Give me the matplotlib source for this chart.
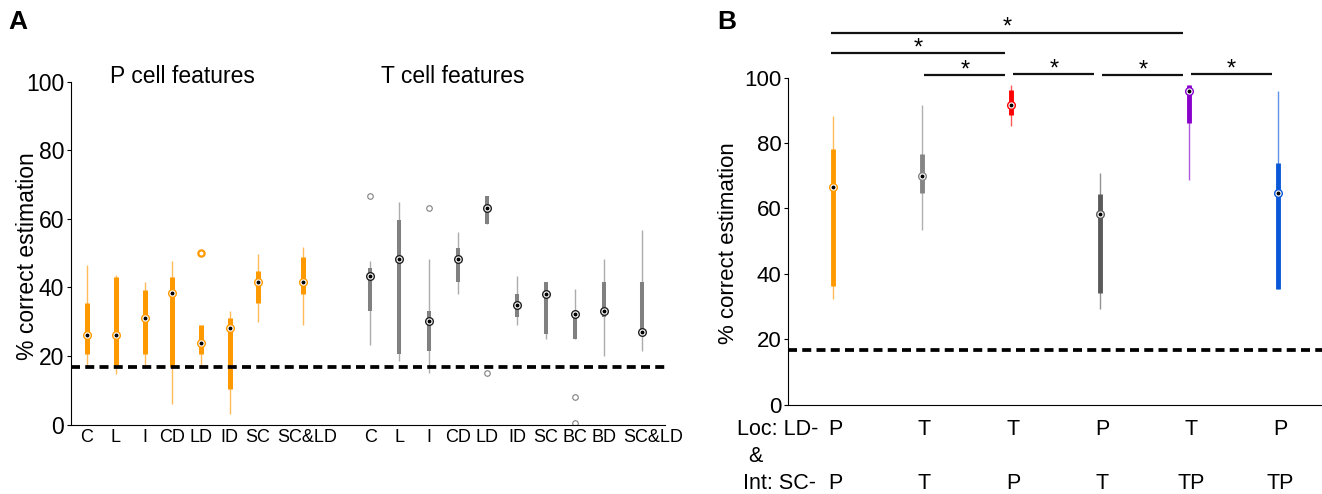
import matplotlib
matplotlib.use("Agg")
import matplotlib.pyplot as plt
from matplotlib.transforms import blended_transform_factory

plt.rcParams['font.family'] = ['Liberation Sans', 'DejaVu Sans']

# ---- Panel A: P cell features (orange) ----
p_labels   = ["C", "L", "I", "CD", "LD", "ID", "SC", "SC&LD"]
p_whislo   = [16.8, 14.6, 16.8, 6.1, 17.0, 3.1, 30.0, 29.1]
p_q1       = [20.7, 16.8, 20.7, 16.8, 20.7, 10.3, 35.4, 38.2]
p_med      = [26.1, 26.0, 31.1, 38.4, 23.8, 28.1, 41.6, 41.6]
p_q3       = [35.3, 43.1, 39.3, 43.1, 29.0, 31.0, 44.9, 48.8]
p_whishi   = [46.6, 43.7, 41.5, 47.8, 29.0, 33.2, 49.8, 51.7]
p_outliers = [[], [], [], [], [50.0], [], [], []]

# ---- Panel A: T cell features (gray) ----
t_labels   = ["C", "L", "I", "CD", "LD", "ID", "SC", "BC", "BD", "SC&LD"]
t_whislo   = [23.2, 18.5, 14.9, 38.2, 58.4, 29.1, 24.9, 24.9, 19.9, 21.5]
t_q1       = [33.2, 20.7, 21.5, 41.5, 58.4, 31.5, 26.5, 24.9, 31.5, 26.9]
t_med      = [43.3, 48.3, 30.2, 48.3, 63.3, 34.9, 38.2, 32.3, 33.2, 26.9]
t_q3       = [45.7, 59.8, 33.1, 51.5, 66.6, 38.2, 41.5, 32.5, 41.5, 41.5]
t_whishi   = [47.8, 64.9, 48.2, 56.1, 66.6, 43.2, 41.5, 39.5, 48.2, 56.6]
t_outliers = [[66.6], [], [63.3], [], [14.9], [], [], [8.1, 0.3], [], []]

# ---- Panel B: combined decoders ----
b_loc    = ["P", "T", "T", "P", "T", "P"]
b_int    = ["P", "T", "P", "T", "TP", "TP"]
b_whislo = [32.2, 53.4, 85.3, 29.2, 68.7, 35.4]
b_q1     = [36.3, 64.8, 88.6, 34.1, 86.1, 35.4]
b_med    = [66.7, 70.0, 91.7, 58.3, 95.9, 64.6]
b_q3     = [78.2, 76.6, 96.2, 64.4, 97.8, 73.8]
b_whishi = [88.3, 91.6, 97.8, 70.8, 97.8, 95.9]
b_colors = ["#FF9900", "#858585", "#FF0000", "#5A5A5A", "#8800CC", "#0A58D8"]
sig_pairs  = [(1, 5), (1, 3), (2, 3), (3, 4), (4, 5), (5, 6)]
sig_height = [113.8, 107.6, 100.8, 101.0, 100.8, 101.0]

chance = 100.0 / 6

W, H = 1322, 494
fig = plt.figure(figsize=(W / 100, H / 100), dpi=100)


def draw_box(ax, x, lo, q1, med, q3, hi, color, box_lw, edge):
    ax.vlines(x, lo, hi, color=color, lw=1.0, alpha=0.65)
    ax.vlines(x, q1, q3, color=color, lw=box_lw, capstyle='butt')
    ax.plot(x, med, 'o', ms=5.5, mfc='white', mec=edge, mew=1.0, zorder=4)
    ax.plot(x, med, 'o', ms=1.8, color='black', zorder=5)


def style_axes(ax, fs):
    for s in ("top", "right"):
        ax.spines[s].set_visible(False)
    ax.set_ylim(0, 100)
    ax.set_yticks(range(0, 101, 20))
    ax.tick_params(axis='y', length=3, labelsize=fs, pad=2)
    ax.axhline(chance, color='black', lw=2.7, ls=(0, (2.4, 1.4)), zorder=6)


# ---------------- Panel A ----------------
axA = fig.add_axes([71 / W, 1 - 424.5 / H, 594 / W, 342.8 / H])
style_axes(axA, 16.5)
p_pos = [1, 2, 3, 3.93, 4.93, 5.93, 6.9, 8.48]
t_pos = [10.79, 11.79, 12.83, 13.83, 14.83, 15.86, 16.86, 17.86, 18.86, 20.17]
p_tick = p_pos[:-1] + [8.6]
t_tick = t_pos[:-1] + [20.55]

for i in range(len(p_labels)):
    draw_box(axA, p_pos[i], p_whislo[i], p_q1[i], p_med[i], p_q3[i], p_whishi[i],
             "#FF9900", 3.6, "#FF9900")
    for o in p_outliers[i]:
        axA.plot(p_pos[i], o, 'o', ms=4.5, mfc='none', mec="#FF9900", mew=1.6)
for i in range(len(t_labels)):
    draw_box(axA, t_pos[i], t_whislo[i], t_q1[i], t_med[i], t_q3[i], t_whishi[i],
             "#808080", 2.9, "#202020")
    for o in t_outliers[i]:
        axA.plot(t_pos[i], o, 'o', ms=4, mfc='none', mec="#808080", mew=0.8)

axA.set_xlim(0.45, 20.97)
axA.set_xticks(p_tick + t_tick)
axA.set_xticklabels(p_labels + t_labels)
axA.tick_params(axis='x', length=0, labelsize=13, pad=3)
axA.text(4.30, 101.6, "P cell features", fontsize=16.5, ha='center', va='center')
axA.text(13.64, 101.6, "T cell features", fontsize=16.5, ha='center', va='center')
fig.text(28 / W, 1 - 256 / H, "% correct estimation", rotation=90,
         fontsize=16.5, ha='center', va='center')
fig.text(18 / W, 1 - 22 / H, "A", fontsize=19, fontweight='bold',
         ha='center', va='center')

# ---------------- Panel B ----------------
axB = fig.add_axes([788.3 / W, 1 - 404.7 / H, 1 - 788.3 / W, 327 / H])
style_axes(axB, 16)
b_pos = list(range(1, len(b_med) + 1))
for i in range(len(b_med)):
    draw_box(axB, b_pos[i], b_whislo[i], b_q1[i], b_med[i], b_q3[i], b_whishi[i],
             b_colors[i], 3.5, b_colors[i])
axB.set_xlim(0.5, 6.5)
axB.set_xticks([])

for (a, b), h in zip(sig_pairs, sig_height):
    start = a - 0.015 if a == 1 else a + 0.03
    axB.plot([start, b - 0.06], [h, h], color='#111111', lw=1.6,
             clip_on=False, solid_capstyle='butt')
    axB.text((start + b - 0.06) / 2, h - 0.4, "*", fontsize=17, ha='center',
             va='baseline', clip_on=False)

tr = blended_transform_factory(axB.transData, fig.transFigure)
for i in range(len(b_loc)):
    axB.text(b_pos[i] + 0.03, 1 - 429 / H, b_loc[i], transform=tr,
             fontsize=15.5, ha='center', va='center')
    axB.text(b_pos[i] + 0.03, 1 - 483.5 / H, b_int[i], transform=tr,
             fontsize=15.5, ha='center', va='center')
fig.text(736.7 / W, 1 - 429 / H, "Loc: LD-", fontsize=15.5, ha='left', va='center')
fig.text(755 / W, 1 - 456.7 / H, "&", fontsize=15.5, ha='center', va='center')
fig.text(743.3 / W, 1 - 483.5 / H, "Int: SC-", fontsize=15.5, ha='left', va='center')
fig.text(729 / W, 1 - 243 / H, "% correct estimation", rotation=90,
         fontsize=16, ha='center', va='center')
fig.text(727 / W, 1 - 22 / H, "B", fontsize=19, fontweight='bold',
         ha='center', va='center')

fig.savefig("out.png", dpi=100)
